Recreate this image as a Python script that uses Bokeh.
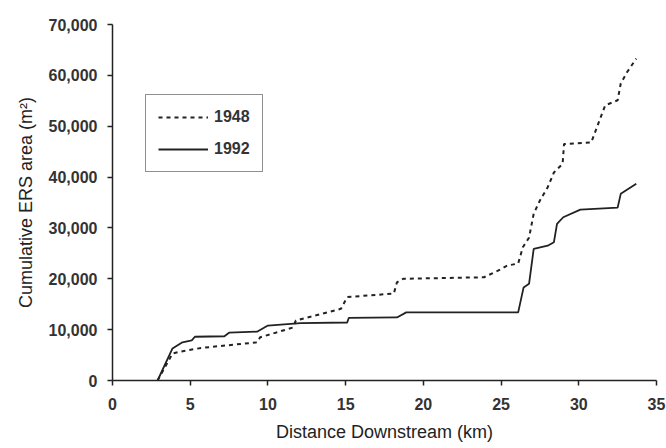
from bokeh.plotting import figure
from bokeh.models import Range1d, NumeralTickFormatter, FixedTicker, Legend, LegendItem
from bokeh.embed import file_html
from bokeh.resources import INLINE

# Data
km_1948 = [2.9, 3.86, 4.4, 5.7, 9.3, 9.5, 11.6, 11.8, 14.7, 15.1, 18.1, 18.3, 18.7,
           23.9, 24.8, 25.4, 26.1, 26.4, 26.8, 27.1, 27.5, 28.0, 28.4, 28.96, 29.05,
           30.8, 31.4, 31.7, 32.5, 32.7, 33.1, 33.7]
area_1948 = [0, 5300, 5700, 6400, 7500, 8500, 10400, 11800, 14100, 16400, 17100, 19300, 20000,
             20300, 21600, 22600, 23000, 26200, 28100, 32800, 35400, 38000, 40900, 42600, 46500,
             46800, 51700, 54100, 55100, 58400, 60600, 63300]

km_1992 = [2.9, 3.86, 4.5, 5.1, 5.3, 7.2, 7.5, 9.3, 10.0, 12.1, 15.1, 15.2, 18.3, 18.9,
           26.1, 26.45, 26.8, 27.1, 28.0, 28.4, 28.6, 29.0, 30.1, 32.5, 32.7, 33.7]
area_1992 = [0, 6300, 7500, 7900, 8600, 8700, 9400, 9600, 10800, 11300, 11400, 12300, 12400, 13400,
             13400, 18300, 19000, 25900, 26500, 27200, 30800, 32100, 33600, 34000, 36700, 38700]

x_ticks = [0, 5, 10, 15, 20, 25, 30, 35]
y_ticks = [0, 10000, 20000, 30000, 40000, 50000, 60000, 70000]
series_labels = ["1948", "1992"]

FONT = "Liberation Sans"
INK = "#222222"

p = figure(width=666, height=448, output_backend="svg", toolbar_location=None,
           x_range=Range1d(0, 35), y_range=Range1d(0, 70000),
           min_border_left=112, min_border_right=10, min_border_top=24, min_border_bottom=68)
p.outline_line_color = None
p.xgrid.visible = False
p.ygrid.visible = False
p.background_fill_color = "white"

r1948 = p.line(km_1948, area_1948, line_color=INK, line_width=2, line_dash="4 4")
r1992 = p.line(km_1992, area_1992, line_color=INK, line_width=1.8)

for ax in (p.xaxis[0], p.yaxis[0]):
    ax.axis_line_color = INK
    ax.axis_line_width = 1.5
    ax.major_tick_line_color = INK
    ax.major_tick_line_width = 1.5
    ax.major_tick_out = 5
    ax.major_tick_in = 0
    ax.minor_tick_line_color = None
    ax.major_label_text_font = FONT
    ax.major_label_text_font_size = "16px"
    ax.major_label_text_font_style = "bold"
    ax.major_label_text_color = "#333333"
    ax.axis_label_text_font = FONT
    ax.axis_label_text_font_size = "18px"
    ax.axis_label_text_font_style = "normal"
    ax.axis_label_text_color = INK

p.xaxis.ticker = FixedTicker(ticks=x_ticks)
p.yaxis.ticker = FixedTicker(ticks=y_ticks)
p.yaxis.formatter = NumeralTickFormatter(format="0,0")
p.xaxis.axis_label = "Distance Downstream (km)"
p.yaxis.axis_label = "Cumulative ERS area (m²)"
p.xaxis.major_label_standoff = 12
p.yaxis.major_label_standoff = 10
p.xaxis.axis_label_standoff = 9
p.yaxis.axis_label_standoff = 10

legend = Legend(items=[LegendItem(label=series_labels[0], renderers=[r1948]),
                       LegendItem(label=series_labels[1], renderers=[r1992])],
                location=(33, 208))
legend.label_text_font = FONT
legend.label_text_font_size = "16px"
legend.label_text_font_style = "bold"
legend.label_text_color = "#333333"
legend.glyph_width = 50
legend.glyph_height = 20
legend.label_standoff = 6
legend.spacing = 12
legend.padding = 12
legend.margin = 0
legend.border_line_color = INK
legend.border_line_width = 1
legend.background_fill_alpha = 1
p.add_layout(legend, "center")

open("out.html", "w").write(file_html(p, INLINE))
